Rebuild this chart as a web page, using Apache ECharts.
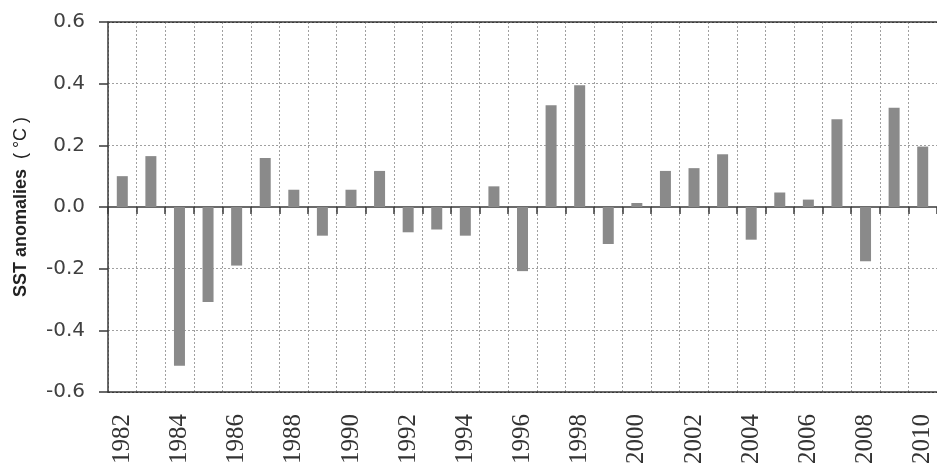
<!DOCTYPE html>
<html>
<head>
<meta charset="utf-8">
<script src="https://cdn.jsdelivr.net/npm/echarts@6/dist/echarts.min.js"></script>
<style>
  html, body { margin: 0; padding: 0; background: #ffffff; }
  #chart { width: 937px; height: 468px; }
</style>
</head>
<body>
<div id="chart"></div>
<script>
// Years along the category axis
const years = ['1982','1983','1984','1985','1986','1987','1988','1989','1990','1991',
               '1992','1993','1994','1995','1996','1997','1998','1999','2000','2001',
               '2002','2003','2004','2005','2006','2007','2008','2009','2010'];

// Annual SST anomalies (°C)
const sstAnomalies = [0.100, 0.165, -0.515, -0.308, -0.190, 0.159, 0.056, -0.093, 0.056, 0.117,
                      -0.082, -0.073, -0.093, 0.067, -0.208, 0.330, 0.395, -0.120, 0.013, 0.117,
                      0.126, 0.171, -0.106, 0.047, 0.024, 0.285, -0.176, 0.322, 0.196];

// Value axis range and step
const yMin = -0.6;
const yMax = 0.6;
const yStep = 0.2;

const axisColor = '#3a3a3a';
const textColor = '#404040';

const chart = echarts.init(document.getElementById('chart'), null, { renderer: 'canvas' });

chart.setOption({
  backgroundColor: '#ffffff',
  animation: false,
  grid: {
    left: 108,
    top: 22,
    right: -3,
    bottom: 76,
    show: false
  },
  xAxis: [
    {
      // bottom axis: year labels, bottom frame line, dotted year separators
      type: 'category',
      data: years,
      position: 'bottom',
      boundaryGap: true,
      axisLine: { show: true, onZero: false, lineStyle: { color: axisColor, width: 1.5 } },
      axisTick: { show: false },
      axisLabel: {
        interval: 1,
        rotate: 90,
        margin: 22,
        color: '#333333',
        fontFamily: 'Liberation Sans Narrow',
        fontSize: 25
      },
      splitLine: {
        show: true,
        interval: 0,
        lineStyle: { color: '#a0a0a0', type: [2, 2], width: 1 }
      }
    },
    {
      // zero line with short ticks hanging below it
      type: 'category',
      data: years,
      position: 'top',
      boundaryGap: true,
      axisLine: { show: true, onZero: true, onZeroAxisIndex: 0, lineStyle: { color: axisColor, width: 1.5 } },
      axisTick: { show: true, inside: true, interval: 0, length: 7, lineStyle: { color: axisColor, width: 1.5 } },
      axisLabel: { show: false },
      splitLine: { show: false }
    }
  ],
  yAxis: {
    type: 'value',
    min: yMin,
    max: yMax,
    interval: yStep,
    axisLine: { show: true, lineStyle: { color: axisColor, width: 1.5 } },
    axisTick: { show: true, length: 9, lineStyle: { color: axisColor, width: 1.5 } },
    axisLabel: {
      margin: 23,
      color: textColor,
      fontFamily: 'DejaVu Sans',
      fontSize: 20,
      formatter: function (v) { return v.toFixed(1); }
    },
    splitLine: {
      show: true,
      lineStyle: {
        // -0.6 .. 0.6: frame lines solid and dark, inner lines dotted
        color: [axisColor, '#a0a0a0', '#a0a0a0', 'rgba(0,0,0,0)', '#a0a0a0', '#a0a0a0', axisColor],
        type: [2, 2],
        width: 1
      }
    },
    name: '{b|SST anomalies}{r|  ( °C )}',
    nameLocation: 'middle',
    nameGap: 78,
    nameRotate: 90,
    nameTextStyle: {
      rich: {
        b: { fontFamily: 'Liberation Sans', fontSize: 18, fontWeight: 'bold', color: '#222222' },
        r: { fontFamily: 'Liberation Sans', fontSize: 18, color: '#222222' }
      }
    }
  },
  series: [
    {
      type: 'bar',
      xAxisIndex: 0,
      yAxisIndex: 0,
      data: sstAnomalies,
      barWidth: 11,
      itemStyle: { color: '#8a8a8a' }
    }
  ]
});

// solid frame line along the top edge of the plot
const topY = chart.convertToPixel({ yAxisIndex: 0 }, yMax);
chart.setOption({
  graphic: [{
    type: 'line',
    shape: { x1: 108, y1: topY, x2: 940, y2: topY },
    style: { stroke: axisColor, lineWidth: 1.5 },
    z: 10
  }]
});
</script>
</body>
</html>
